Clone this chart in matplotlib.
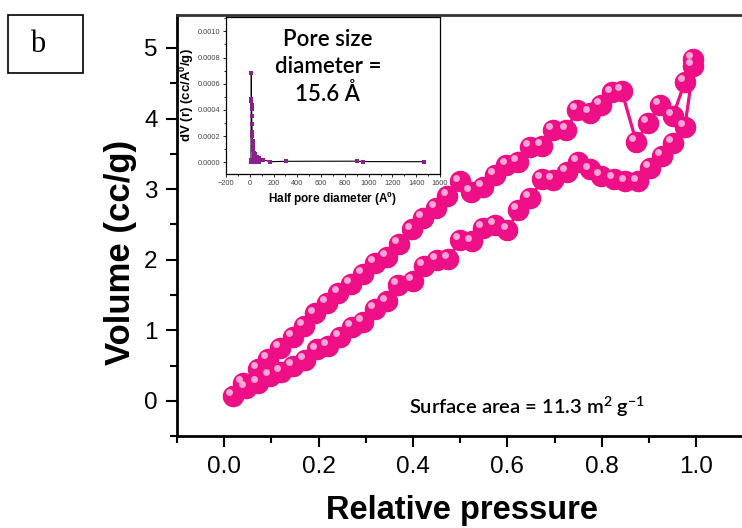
import matplotlib
matplotlib.use("Agg")
import matplotlib.pyplot as plt
from matplotlib.ticker import MultipleLocator
from matplotlib.transforms import offset_copy
from matplotlib.patches import Rectangle

# adsorption branch (lower), increasing pressure
p_ads = [0.019, 0.047, 0.072, 0.097, 0.121, 0.146, 0.171, 0.196, 0.220, 0.245,
         0.270, 0.294, 0.319, 0.344, 0.369, 0.400, 0.424, 0.450, 0.475, 0.499,
         0.525, 0.549, 0.573, 0.600, 0.623, 0.648, 0.674, 0.697, 0.727, 0.750,
         0.775, 0.799, 0.826, 0.850, 0.876, 0.902, 0.927, 0.951, 0.976, 0.994]
v_ads = [0.07, 0.18, 0.25, 0.35, 0.415, 0.50, 0.58, 0.73, 0.78, 0.91,
         1.05, 1.12, 1.31, 1.41, 1.64, 1.70, 1.91, 2.00, 2.01, 2.28,
         2.26, 2.45, 2.49, 2.42, 2.70, 2.87, 3.14, 3.13, 3.25, 3.39,
         3.28, 3.19, 3.15, 3.11, 3.11, 3.30, 3.47, 3.66, 3.88, 4.74]

# desorption branch (upper), decreasing pressure
p_des = [0.994, 0.976, 0.951, 0.923, 0.898, 0.873, 0.842, 0.822, 0.799, 0.775,
         0.748, 0.725, 0.697, 0.673, 0.648, 0.623, 0.598, 0.573, 0.549, 0.523,
         0.499, 0.473, 0.448, 0.422, 0.397, 0.370, 0.344, 0.319, 0.294, 0.268,
         0.242, 0.217, 0.192, 0.169, 0.146, 0.118, 0.093, 0.071, 0.040]
v_des = [4.85, 4.52, 4.04, 4.19, 3.94, 3.67, 4.395, 4.37, 4.19, 4.08,
         4.12, 3.84, 3.84, 3.61, 3.60, 3.39, 3.34, 3.20, 3.03, 2.96,
         3.11, 2.90, 2.73, 2.59, 2.43, 2.23, 2.04, 1.95, 1.80, 1.66,
         1.53, 1.39, 1.24, 1.06, 0.91, 0.75, 0.60, 0.45, 0.26]

# inset: pore size distribution
inset_r = [10, 12, 13, 14, 15, 16, 17, 18, 20, 22, 24, 26, 28, 30, 32, 34, 36,
           38, 40, 44, 48, 52, 58, 65, 75, 90, 110, 170, 305, 905, 955, 1465]
inset_dv = [0.00002, 0.00047, 0.00068, 0.00048, 0.00044, 0.00041, 0.00035,
            0.00029, 0.00023, 0.00020, 0.00016, 0.00013, 0.00011, 0.00009,
            0.00007, 0.00006, 0.00005, 0.00004, 0.00006, 0.00003, 0.00005,
            0.00002, 0.00004, 0.00001, 0.00003, 0.00002, 0.00002, 0.000004,
            0.000007, 0.000008, 0.000005, 0.000004]
inset_r_base = [12, 20, 30, 40, 50, 60, 75]

pink = "#ee0f86"
shine = "#ffc0e2"

plt.rcParams["font.family"] = ["Liberation Sans", "DejaVu Sans"]
plt.rcParams["mathtext.default"] = "regular"

fig = plt.figure(figsize=(7.42, 5.28), dpi=100)
ax = fig.add_axes([177 / 742, (528 - 436.3) / 528, 566.4 / 742, (436.3 - 14.8) / 528])

p_all = p_ads + p_des
v_all = v_ads + v_des
ax.plot(p_all, v_all, color=pink, lw=2.3, zorder=2)
ax.plot(p_all, v_all, "o", ms=14.5, color=pink, mec=pink, zorder=3)
hl = offset_copy(ax.transData, fig=fig, x=-2.8, y=2.8, units="points")
ax.plot(p_all, v_all, "o", ms=5, color=shine, mew=0, alpha=0.85,
        transform=hl, zorder=4)

ax.set_xlim(-0.1, 1.1)
ax.set_ylim(-0.5, 5.47)
ax.xaxis.set_minor_locator(MultipleLocator(0.1))
ax.yaxis.set_major_locator(MultipleLocator(1))
ax.yaxis.set_minor_locator(MultipleLocator(0.5))
ax.set_xticks([0.0, 0.2, 0.4, 0.6, 0.8, 1.0])
ax.set_xticklabels(["0.0", "0.2", "0.4", "0.6", "0.8", "1.0"])
ax.tick_params(which="both", direction="out", width=1.5, labelsize=17.5, pad=6)
ax.tick_params(which="major", length=8)
ax.tick_params(which="minor", length=5)
ax.spines["right"].set_visible(False)
for s in ["left", "bottom", "top"]:
    ax.spines[s].set_linewidth(2)
ax.spines["top"].set_color("#333333")

ax.text(0.641, -0.085, "Surface area = 11.3 m$^2$ g$^{-1}$", family="Lato",
        fontweight="semibold", fontsize=14.5, ha="center", va="center")

fig.text(0.6226, 0.034, "Relative pressure", fontsize=23.5, fontweight="bold",
         ha="center", va="center")
fig.text(0.163, 0.521, "Volume (cc/g)", fontsize=25, fontweight="bold",
         rotation=90, ha="center", va="center")

# panel letter
fig.patches.append(Rectangle((8 / 742, (528 - 73) / 528), 75 / 742, 58 / 528,
                             transform=fig.transFigure, fill=False,
                             edgecolor="black", lw=1.2))
fig.text(38 / 742, 1 - 45 / 528, "b", family="Liberation Serif", fontsize=22,
         ha="center", va="center")

# inset
ins = fig.add_axes([226 / 742, (528 - 174) / 528, 214 / 742, 157 / 528], zorder=5)
ins.plot(inset_r, inset_dv, color="black", lw=0.8, zorder=2)
ins.plot(inset_r, inset_dv, "s", ms=2.8, color="#8b1f8f", mew=0, zorder=3)
ins.plot(inset_r_base, [0] * len(inset_r_base), "s", ms=2.8, color="#8b1f8f",
         mew=0, zorder=3)
ins.set_xlim(-200, 1600)
ins.set_ylim(-0.00009, 0.00111)
ins.xaxis.set_major_locator(MultipleLocator(200))
ins.xaxis.set_minor_locator(MultipleLocator(100))
ins.yaxis.set_major_locator(MultipleLocator(0.0002))
ins.yaxis.set_minor_locator(MultipleLocator(0.0001))
ins.yaxis.set_major_formatter(matplotlib.ticker.FormatStrFormatter("%.4f"))
ins.tick_params(which="both", direction="out", width=0.6, labelsize=5.3,
                labelcolor="#444444", pad=1.5)
ins.tick_params(which="major", length=2.5)
ins.tick_params(which="minor", length=1.5)
for s in ins.spines.values():
    s.set_linewidth(0.9)
ins.set_xlabel("Half pore diameter (A$^0$)", fontsize=8.5, fontweight="bold",
               labelpad=2)
ins.set_ylabel("dV (r) (cc/A$^0$/g)", fontsize=9.5, fontweight="bold", labelpad=1)
ins.text(657, 0.000728, "Pore size\ndiameter =\n15.6 Å", family="Lato",
         fontweight="semibold", fontsize=16, ha="center", va="center",
         linespacing=1.35)

fig.savefig("out.png", dpi=100)
